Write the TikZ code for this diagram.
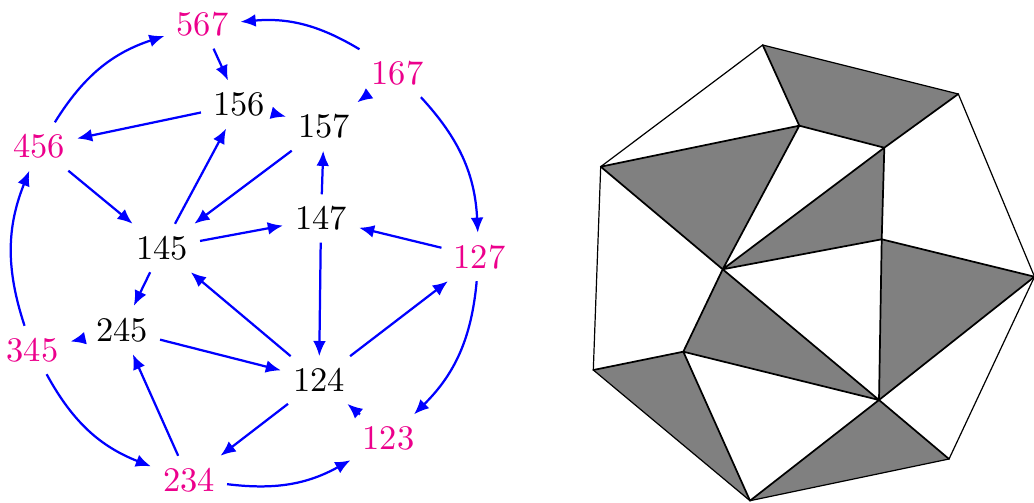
\documentclass[tikz,border=0pt]{standalone}
\usetikzlibrary{arrows.meta}
\definecolor{mag}{RGB}{236,0,140}
\begin{document}
\begin{tikzpicture}[x=0.29pt,y=-0.29pt,
  lbl/.style={font=\fontsize{10}{12}\selectfont, inner sep=3.33pt},
  pk/.style={lbl,text=mag},
  ar/.style={draw=blue, line width=0.65pt, -{Latex[length=4.4pt,width=3.7pt]}},
  shadeface/.style={fill=gray},
  outer/.style={draw=black, line width=0.35pt, line join=round},
  inner/.style={draw=black, line width=0.5pt, line cap=round}]
\useasboundingbox (0,0) rectangle (1034,503);
% ---------- left graph ----------
\node[pk]  (n567) at (202.5,24.5) {567};
\node[pk]  (n167) at (397.5,73) {167};
\node[lbl] (n156) at (239,104.5) {156};
\node[lbl] (n157) at (324,126.5) {157};
\node[pk]  (n456) at (39,146.5) {456};
\node[lbl] (n147) at (321,218.5) {147};
\node[lbl] (n145) at (162,248) {145};
\node[pk]  (n127) at (479.5,257) {127};
\node[lbl] (n245) at (122,330) {245};
\node[pk]  (n345) at (32.5,350) {345};
\node[lbl] (n124) at (319,380) {124};
\node[pk]  (n123) at (388.5,438.5) {123};
\node[pk]  (n234) at (189,480) {234};
\draw[ar] (n167) to[bend right=18] (n567);
\draw[ar] (n167) to[bend left=20] (n127);
\draw[ar] (n127) to[bend left=20] (n123);
\draw[ar] (n234) to[bend right=18] (n123);
\draw[ar] (n345) to[bend right=20] (n234);
\draw[ar] (n345) to[bend left=20] (n456);
\draw[ar] (n456) to[bend left=20] (n567);
\draw[ar] (n567) -- (n156);
\draw[ar] (n167) -- (n157);
\draw[ar] (n156) -- (n157);
\draw[ar] (n156) -- (n456);
\draw[ar] (n456) -- (n145);
\draw[ar] (n145) -- (n156);
\draw[ar] (n157) -- (n145);
\draw[ar] (n147) -- (n157);
\draw[ar] (n145) -- (n147);
\draw[ar] (n127) -- (n147);
\draw[ar] (n147) -- (n124);
\draw[ar] (n124) -- (n145);
\draw[ar] (n124) -- (n127);
\draw[ar] (n145) -- (n245);
\draw[ar] (n245) -- (n124);
\draw[ar] (n234) -- (n245);
\draw[ar] (n124) -- (n234);
\draw[ar] (n123) -- (n124);
\draw[ar] (n245) -- (n345);
% ---------- right figure ----------
\coordinate (T)  at (762.7,45);
\coordinate (UR) at (958.3,94);
\coordinate (R)  at (1034.5,276.7);
\coordinate (LR) at (949,459);
\coordinate (Bo) at (750,500.7);
\coordinate (LL) at (593.3,370);
\coordinate (UL) at (600.7,166.7);
\coordinate (A)  at (799.3,125.7);
\coordinate (B)  at (884.3,147.7);
\coordinate (C)  at (881.7,239.3);
\coordinate (D)  at (722.7,269.3);
\coordinate (E)  at (683.3,351.7);
\coordinate (F)  at (879,400);
\fill[shadeface] (T) -- (UR) -- (B) -- (A) -- cycle;
\fill[shadeface] (UL) -- (A) -- (D) -- cycle;
\fill[shadeface] (D) -- (B) -- (C) -- cycle;
\fill[shadeface] (C) -- (R) -- (F) -- cycle;
\fill[shadeface] (D) -- (E) -- (F) -- cycle;
\fill[shadeface] (LL) -- (E) -- (Bo) -- cycle;
\fill[shadeface] (Bo) -- (F) -- (LR) -- cycle;
\draw[outer] (T) -- (UR) -- (R) -- (LR) -- (Bo) -- (LL) -- (UL) -- cycle;
\draw[inner] (T) -- (A) (UL) -- (A) (A) -- (B) (B) -- (UR) (A) -- (D)
  (UL) -- (D) (D) -- (B) (B) -- (C) (C) -- (D) (C) -- (R) (D) -- (E)
  (E) -- (F) (D) -- (F) (C) -- (F) (F) -- (R) (F) -- (LR) (F) -- (Bo)
  (E) -- (LL) (E) -- (Bo);
\end{tikzpicture}
\end{document}
